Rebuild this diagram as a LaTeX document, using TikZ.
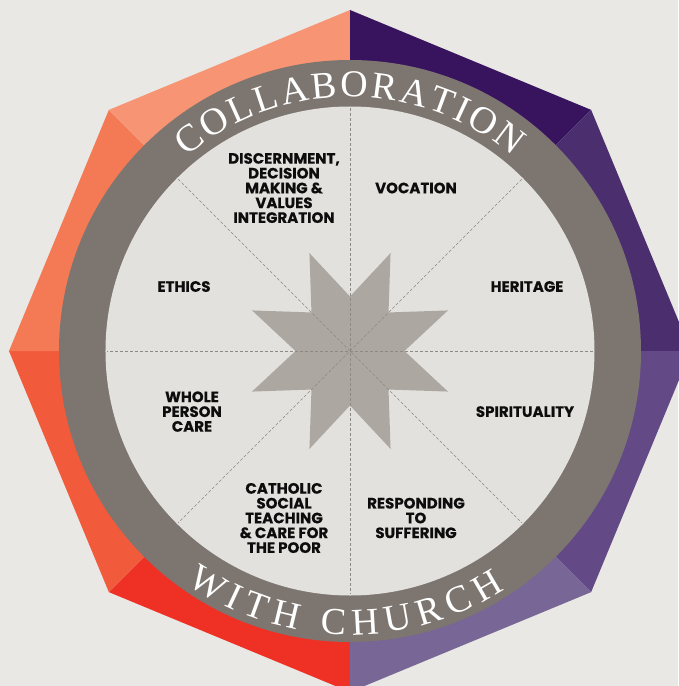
\documentclass[tikz,border=0pt]{standalone}
\usepackage{fontspec}
\newfontfamily\topicfont{Poppins}[BoldFeatures={FakeBold=0.4}]
\newfontfamily\ringfont{Liberation Serif}
\usetikzlibrary{decorations.text}

\definecolor{bgcol}{HTML}{E9E8E4}
\definecolor{facecol}{HTML}{E2E1DD}
\definecolor{ringcol}{HTML}{7D7670}
\definecolor{starcol}{HTML}{ADA7A1}
\definecolor{spokecol}{HTML}{8E8984}
\definecolor{segA}{HTML}{39145E}
\definecolor{segB}{HTML}{4A2E6E}
\definecolor{segC}{HTML}{634A86}
\definecolor{segD}{HTML}{776696}
\definecolor{segE}{HTML}{EE3124}
\definecolor{segF}{HTML}{F15A3A}
\definecolor{segG}{HTML}{F47A55}
\definecolor{segH}{HTML}{F79474}

\begin{document}
\begin{tikzpicture}[x=1pt,y=1pt]
    \tikzstyle{topic}=[align=center,inner sep=0pt,text=black!95,font=\topicfont\bfseries\fontsize{15}{14.8}\selectfont]
    \tikzstyle{spoke}=[draw=spokecol,line width=0.7pt,dash pattern=on 3pt off 2pt]
    \tikzstyle{ringtext}=[decorate,decoration={text along path,text align=fit to path,text color=white}]

    \useasboundingbox (-350,-335) rectangle (328,351);
    \fill[bgcol] (-350,-335) rectangle (328,351);
    \coordinate (c) at (0,0);

    % outer octagon, one piece per side
    \fill[segA] (c) -- (90:341) -- (45:341) -- cycle;
    \fill[segB] (c) -- (45:341) -- (0:341) -- cycle;
    \fill[segC] (c) -- (0:341) -- (-45:341) -- cycle;
    \fill[segD] (c) -- (-45:341) -- (-90:341) -- cycle;
    \fill[segE] (c) -- (-90:341) -- (-135:341) -- cycle;
    \fill[segF] (c) -- (-135:341) -- (180:341) -- cycle;
    \fill[segG] (c) -- (180:341) -- (135:341) -- cycle;
    \fill[segH] (c) -- (135:341) -- (90:341) -- cycle;

    % ring and face
    \fill[ringcol] (c) circle (291pt);
    \fill[facecol] (c) circle (244.5pt);

    % star
    \fill[starcol] (0:54.5) -- (22.5:106) -- (45:54.5) -- (67.5:106) -- (90:54.5) -- (112.5:106)
        -- (135:54.5) -- (157.5:106) -- (180:54.5) -- (202.5:106) -- (225:54.5) -- (247.5:106)
        -- (270:54.5) -- (292.5:106) -- (315:54.5) -- (337.5:106) -- cycle;

    % spokes
    \draw[spoke] (90:243) -- (270:243);
    \draw[spoke] (0:243) -- (180:243);
    \draw[spoke] (45:243) -- (225:243);
    \draw[spoke] (135:243) -- (315:243);

    % ring text
    \path[ringtext,decoration={text={|\ringfont\fontsize{38}{38}\selectfont|COLLABORATION}}]
        (130:254) arc[start angle=130,end angle=50,radius=254pt];
    \path[ringtext,decoration={text={|\ringfont\fontsize{38}{38}\selectfont|WITH CHURCH}}]
        (235:284) arc[start angle=235,end angle=303,radius=284pt];

    % topics
    \node[topic] (discern) at (-66,163) {DISCERNMENT,\\DECISION\\MAKING \&\\VALUES\\INTEGRATION};
    \node[topic] (vocation) at (66,163) {VOCATION};
    \node[topic] (ethics) at (-166,64.5) {ETHICS};
    \node[topic] (heritage) at (177,64.5) {HERITAGE};
    \node[topic] (whole) at (-158,-60.6) {WHOLE\\PERSON\\CARE};
    \node[topic] (spirit) at (175,-60.6) {SPIRITUALITY};
    \node[topic] (catholic) at (-66,-167) {CATHOLIC\\SOCIAL\\TEACHING\\\& CARE FOR\\THE POOR};
    \node[topic] (suffer) at (66,-167) {RESPONDING\\TO\\SUFFERING};
\end{tikzpicture}
\end{document}
